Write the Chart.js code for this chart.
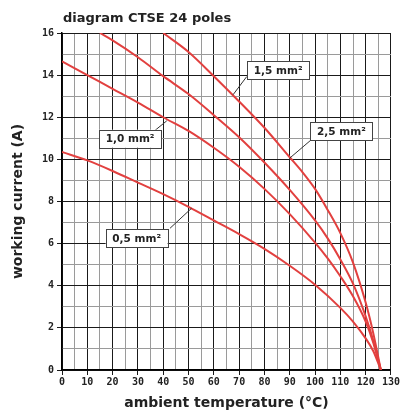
<!DOCTYPE html>
<html>
<head>
<meta charset="utf-8">
<script src="https://cdn.jsdelivr.net/npm/chart.js@4/dist/chart.umd.min.js"></script>
<style>
  html, body { margin: 0; padding: 0; background: #fff; }
  #wrap { width: 401px; height: 415px; }
</style>
</head>
<body>
<div id="wrap"><canvas id="chart" width="401" height="415"></canvas></div>
<script>
// temperatures (°C) and working current (A)
const temps05 = [0, 10, 20, 30, 40, 50, 60, 70, 80, 90, 100, 110, 115, 120, 123, 126];
const current05 = [10.35, 9.95, 9.45, 8.9, 8.35, 7.75, 7.1, 6.45, 5.75, 4.95, 4.05, 2.95, 2.3, 1.5, 0.9, 0];

const temps10 = [0, 10, 20, 30, 40, 50, 60, 70, 80, 90, 100, 105, 110, 115, 120, 123, 126];
const current10 = [14.65, 14.0, 13.35, 12.7, 12.0, 11.35, 10.55, 9.65, 8.6, 7.4, 6.05, 5.3, 4.45, 3.5, 2.3, 1.3, 0];

const temps15 = [15, 20, 30, 40, 50, 60, 70, 80, 90, 100, 105, 110, 115, 120, 123, 126];
const current15 = [16, 15.65, 14.85, 13.95, 13.1, 12.1, 11.05, 9.85, 8.55, 7.1, 6.25, 5.25, 4.1, 2.55, 1.4, 0];

const temps25 = [40, 50, 60, 70, 80, 90, 95, 100, 105, 110, 115, 120, 123, 126];
const current25 = [16, 15.1, 13.95, 12.75, 11.5, 10.1, 9.4, 8.6, 7.6, 6.5, 5.1, 3.2, 1.75, 0];

// callout labels: text, box centre and pointer (all in data units)
const labelTexts = ['1,5 mm²', '2,5 mm²', '1,0 mm²', '0,5 mm²'];
const labelBoxAt = [[85.4, 14.23], [110.4, 11.34], [26.9, 10.98], [29.5, 6.26]];
const labelLineFrom = [[73.0, 13.93], [98.5, 10.93], [36.8, 11.38], [42.7, 6.73]];
const labelLineTo = [[67.6, 13.07], [90.0, 10.06], [41.4, 11.83], [51.2, 7.68]];

const toPoints = (xs, ys) => xs.map((x, i) => ({ x, y: ys[i] }));

const curve = (data) => ({
  data,
  borderColor: '#e2403f',
  borderWidth: 2,
  pointRadius: 0,
  fill: false,
  cubicInterpolationMode: 'monotone',
});

const calloutPlugin = {
  id: 'callouts',
  afterDatasetsDraw(chart) {
    const { ctx, scales: { x, y }, chartArea } = chart;
    ctx.save();
    // title
    ctx.fillStyle = '#222';
    ctx.font = 'bold 13px "DejaVu Sans"';
    ctx.textAlign = 'left';
    ctx.textBaseline = 'alphabetic';
    ctx.fillText('diagram CTSE 24 poles', chartArea.left + 1, 22);

    ctx.font = 'bold 10.5px "DejaVu Sans"';
    labelTexts.forEach((txt, i) => {
      const x1 = x.getPixelForValue(labelLineFrom[i][0]);
      const y1 = y.getPixelForValue(labelLineFrom[i][1]);
      const x2 = x.getPixelForValue(labelLineTo[i][0]);
      const y2 = y.getPixelForValue(labelLineTo[i][1]);
      ctx.strokeStyle = '#333';
      ctx.lineWidth = 1;
      ctx.beginPath();
      ctx.moveTo(x1, y1);
      ctx.lineTo(x2, y2);
      ctx.stroke();

      const cx = x.getPixelForValue(labelBoxAt[i][0]);
      const cy = y.getPixelForValue(labelBoxAt[i][1]);
      const w = 62, h = 18;
      ctx.fillStyle = '#fff';
      ctx.fillRect(cx - w / 2, cy - h / 2, w, h);
      ctx.strokeStyle = '#444';
      ctx.strokeRect(Math.round(cx - w / 2) + 0.5, Math.round(cy - h / 2) + 0.5, w, h);
      ctx.fillStyle = '#222';
      ctx.textAlign = 'center';
      ctx.textBaseline = 'middle';
      ctx.fillText(txt, cx, cy + 1);
    });
    ctx.restore();
  },
};

const ctx = document.getElementById('chart').getContext('2d');
const chart = new Chart(ctx, {
  type: 'line',
  data: {
    datasets: [
      curve(toPoints(temps05, current05)),
      curve(toPoints(temps10, current10)),
      curve(toPoints(temps15, current15)),
      curve(toPoints(temps25, current25)),
    ],
  },
  options: {
    responsive: false,
    animation: false,
    layout: { padding: { top: 33, right: 9, left: 0, bottom: 0 } },
    plugins: { legend: { display: false }, tooltip: { enabled: false } },
    scales: {
      x: {
        type: 'linear',
        min: 0,
        max: 130,
        afterFit: (scale) => { scale.height = 45; },
        ticks: {
          stepSize: 5,
          autoSkip: false,
          maxRotation: 0,
          padding: 1,
          color: '#222',
          font: { family: '"DejaVu Sans Mono"', size: 10, weight: 'bold' },
          callback: (v) => (v % 10 === 0 ? v : ''),
        },
        grid: {
          color: (c) => (c.tick && c.tick.value % 10 === 0 ? '#1a1a1a' : '#9a9a9a'),
          tickColor: (c) => (c.tick && c.tick.value % 10 === 0 ? '#1a1a1a' : 'rgba(0,0,0,0)'),
          tickLength: 5,
          lineWidth: 1,
        },
        border: { color: '#000', width: 1.5 },
        title: {
          display: true,
          text: 'ambient temperature (°C)',
          color: '#222',
          font: { family: '"DejaVu Sans"', size: 14, weight: 'bold' },
          padding: { bottom: 3 },
        },
      },
      y: {
        min: 0,
        max: 16,
        afterFit: (scale) => { scale.width = 62; },
        ticks: {
          stepSize: 1,
          autoSkip: false,
          padding: 3,
          color: '#222',
          font: { family: '"DejaVu Sans Mono"', size: 10, weight: 'bold' },
          callback: (v) => (v % 2 === 0 ? v : ''),
        },
        grid: {
          color: (c) => (c.tick && c.tick.value % 2 === 0 ? '#1a1a1a' : '#9a9a9a'),
          tickColor: (c) => (c.tick && c.tick.value % 2 === 0 ? '#1a1a1a' : 'rgba(0,0,0,0)'),
          tickLength: 5,
          lineWidth: 1,
        },
        border: { color: '#000', width: 1.5 },
        title: {
          display: true,
          text: 'working current (A)',
          color: '#222',
          font: { family: '"DejaVu Sans"', size: 14, weight: 'bold' },
          padding: { top: 10 },
        },
      },
    },
  },
  plugins: [calloutPlugin],
});
</script>
</body>
</html>
